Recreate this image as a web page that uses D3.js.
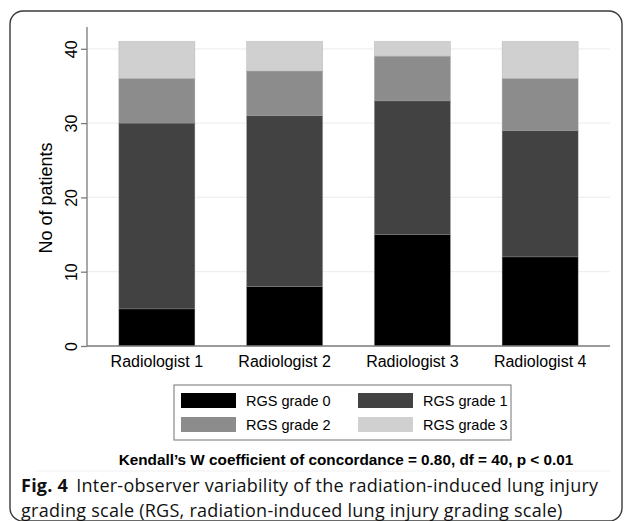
<!DOCTYPE html>
<html>
<head>
<meta charset="utf-8">
<script src="https://cdn.jsdelivr.net/npm/d3@7"></script>
<style>
html,body{margin:0;padding:0;background:#fff;}
svg{display:block;}
</style>
</head>
<body>
<svg id="chart" width="630" height="521"></svg>
<script>
const categories = ["Radiologist 1", "Radiologist 2", "Radiologist 3", "Radiologist 4"];
const seriesNames = ["RGS grade 0", "RGS grade 1", "RGS grade 2", "RGS grade 3"];
const grade0 = [5, 8, 15, 12];
const grade1 = [25, 23, 18, 17];
const grade2 = [6, 6, 6, 7];
const grade3 = [5, 4, 2, 5];
const yTicks = [0, 10, 20, 30, 40];
const colors = ["#000000", "#424242", "#8c8c8c", "#d0d0d0"];
const yTitle = "No of patients";
const note = "Kendall\u2019s W coefficient of concordance = 0.80, df = 40, p < 0.01";
const captionBold = "Fig. 4";
const captionLine1 = "Inter-observer variability of the radiation-induced lung injury";
const captionLine2 = "grading scale (RGS, radiation-induced lung injury grading scale)";

const svg = d3.select("#chart");
const font = "'Liberation Sans', Arial, Helvetica, sans-serif";

// outer rounded frame
svg.append("rect").attr("x", 10).attr("y", 11).attr("width", 612).attr("height", 510)
  .attr("rx", 13).attr("fill", "none").attr("stroke", "#3a3a3a").attr("stroke-width", 1.4);

const plot = {left: 87, right: 610, top: 27, bottom: 346};

const x = d3.scaleBand().domain(categories).range([plot.left, plot.right])
  .paddingInner(0.405).paddingOuter(0.249);
const y = d3.scaleLinear().domain([0, 43]).range([plot.bottom, plot.bottom - 43 * 7.43]);

// gridlines
svg.append("g").selectAll("line").data(yTicks.filter(d => d > 0)).join("line")
  .attr("x1", plot.left).attr("x2", plot.right)
  .attr("y1", d => y(d)).attr("y2", d => y(d))
  .attr("stroke", "#efefef").attr("stroke-width", 1.2);

// stacked data
const rows = categories.map((c, i) => ({cat: c, g0: grade0[i], g1: grade1[i], g2: grade2[i], g3: grade3[i]}));
const stack = d3.stack().keys(["g0", "g1", "g2", "g3"])(rows);

svg.append("g").selectAll("g").data(stack).join("g")
  .attr("fill", (d, i) => colors[i])
  .selectAll("rect").data(d => d).join("rect")
  .attr("x", d => x(d.data.cat))
  .attr("width", x.bandwidth())
  .attr("y", d => y(d[1]))
  .attr("height", d => y(d[0]) - y(d[1]))
  .attr("stroke", "rgba(150,150,150,0.35)").attr("stroke-width", 0.8);

// y axis
const yAxis = d3.axisLeft(y).tickValues(yTicks).tickSize(6).tickSizeOuter(0).tickPadding(4);
const yg = svg.append("g").attr("transform", `translate(${plot.left},0)`).call(yAxis);
yg.select(".domain").attr("d", `M0,${plot.top}V${plot.bottom}`).attr("stroke", "#7a7a7a").attr("stroke-width", 1.3);
yg.selectAll(".tick line").attr("stroke", "#7a7a7a").attr("stroke-width", 1.3);
yg.selectAll(".tick text")
  .attr("font-family", font).attr("font-size", 16).attr("fill", "#000")
  .attr("text-anchor", "middle").attr("dy", 0).attr("x", 0)
  .attr("transform", "translate(-10,0) rotate(-90)");

// x axis (baseline)
const xAxis = d3.axisBottom(x).tickSize(0).tickPadding(10);
const xg = svg.append("g").attr("transform", `translate(0,${plot.bottom})`).call(xAxis);
xg.select(".domain").attr("d", `M${plot.left},0H${plot.right}`).attr("stroke", "#7a7a7a").attr("stroke-width", 1.3);
xg.selectAll(".tick text").attr("font-family", font).attr("font-size", 16).attr("fill", "#000").attr("dy", "0.71em");

// y title
svg.append("text").attr("transform", "translate(52,198) rotate(-90)")
  .attr("text-anchor", "middle").attr("font-family", font).attr("font-size", 18).attr("fill", "#000")
  .text(yTitle);

// legend
const lg = svg.append("g");
lg.append("rect").attr("x", 174).attr("y", 385).attr("width", 337).attr("height", 55)
  .attr("fill", "#fff").attr("stroke", "#8a8a8a").attr("stroke-width", 1.2);
const legPos = [[181, 393], [358, 393], [181, 417], [358, 417]];
seriesNames.forEach((name, i) => {
  const [lx, ly] = legPos[i];
  lg.append("rect").attr("x", lx).attr("y", ly).attr("width", 55).attr("height", 15).attr("fill", colors[i]);
  lg.append("text").attr("x", lx + 65).attr("y", ly + 13).attr("font-family", font).attr("font-size", 14.5)
    .attr("fill", "#000").text(name);
});

// faint separator line
svg.append("line").attr("x1", 36).attr("x2", 610).attr("y1", 471).attr("y2", 471).attr("stroke", "#f0f0f0").attr("stroke-width", 1);

// note
svg.append("text").attr("x", 346).attr("y", 465).attr("text-anchor", "middle")
  .attr("font-family", font).attr("font-size", 15.3).attr("font-weight", "bold").attr("fill", "#000")
  .text(note);

// caption
const capFont = "'Open Sans', 'Noto Sans', sans-serif";
const cap = svg.append("text").attr("x", 21).attr("y", 492)
  .attr("font-family", capFont).attr("font-size", 18).attr("letter-spacing", 0.25).attr("fill", "#111");
cap.append("tspan").attr("font-weight", "bold").text(captionBold);
cap.append("tspan").attr("dx", 8).text(captionLine1);
svg.append("text").attr("x", 21).attr("y", 517)
  .attr("font-family", capFont).attr("font-size", 18).attr("letter-spacing", 0.25).attr("fill", "#111")
  .text(captionLine2);
</script>
</body>
</html>
